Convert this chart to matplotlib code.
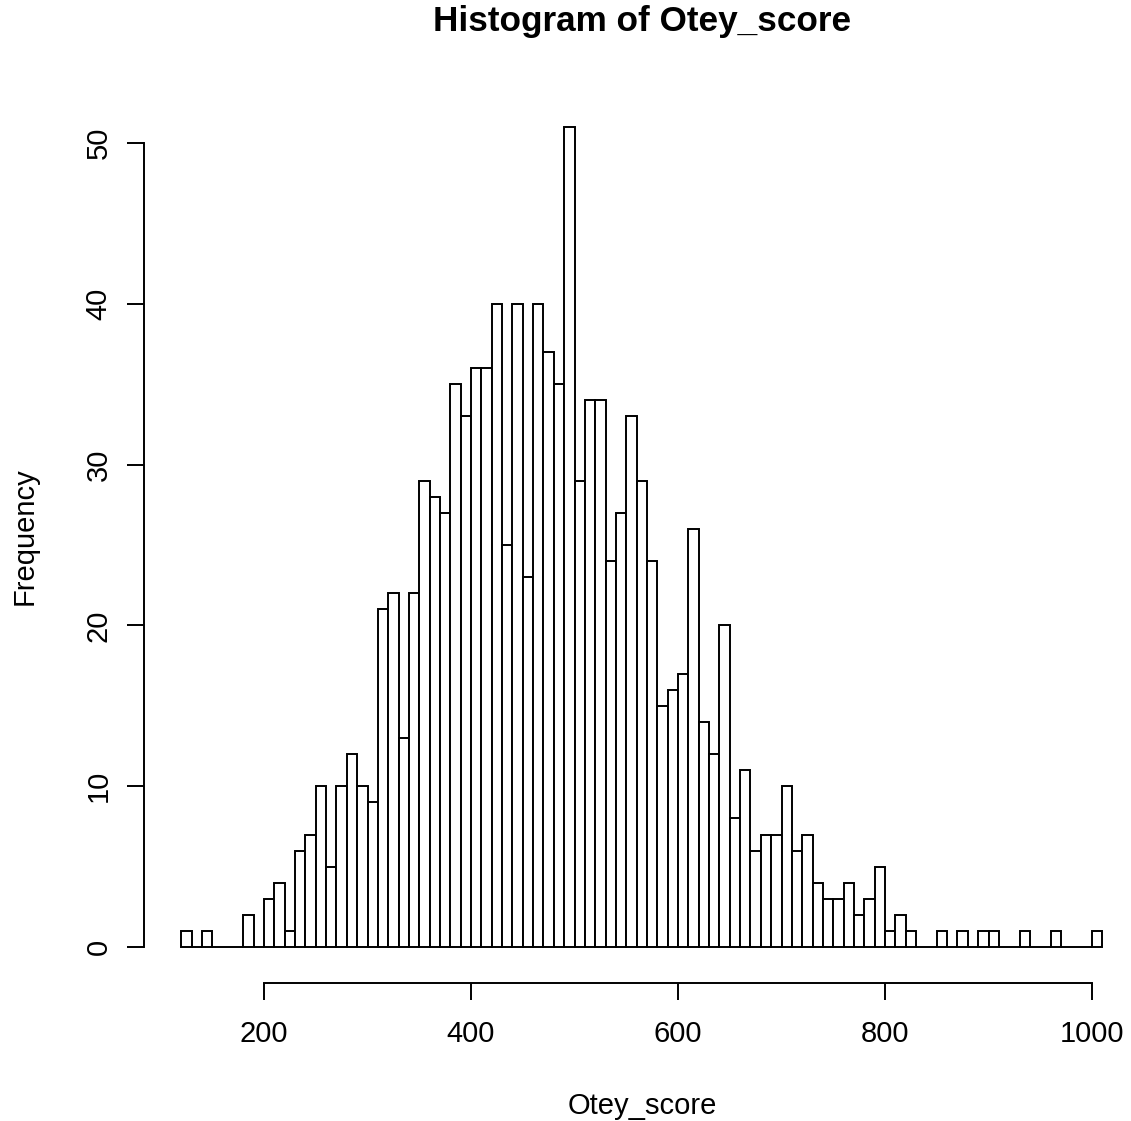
import numpy as np
import matplotlib
matplotlib.use("Agg")
from matplotlib import pyplot as plt

# histogram of Otey_score, bins of width 10 starting at 120
bin_width = 10
bin_starts = list(range(120, 1010, bin_width))
counts = [1, 0, 1, 0, 0, 0, 2, 0,            # 120-190
          3, 4, 1, 6, 7, 10, 5, 10, 12, 10,   # 200-290
          9, 21, 22, 13, 22, 29, 28, 27, 35, 33,   # 300-390
          36, 36, 40, 25, 40, 23, 40, 37, 35, 51,  # 400-490
          29, 34, 34, 24, 27, 33, 29, 24, 15, 16,  # 500-590
          17, 26, 14, 12, 20, 8, 11, 6, 7, 7,      # 600-690
          10, 6, 7, 4, 3, 3, 4, 2, 3, 5,           # 700-790
          1, 2, 1, 0, 0, 1, 0, 1, 0, 1,            # 800-890
          1, 0, 0, 1, 0, 0, 1, 0, 0, 0,            # 900-990
          1]                                       # 1000
x_ticks = [200, 400, 600, 800, 1000]
y_ticks = [0, 10, 20, 30, 40, 50]

plt.rcParams['font.family'] = ['Liberation Sans', 'DejaVu Sans']

W, H = 1131, 1121
fig = plt.figure(figsize=(W / 100, H / 100), dpi=100, facecolor='white')

# plot region in pixels (left, right, top, bottom)
left, right, top, bottom = 144.4, 1139.2, 94, 980
ax = fig.add_axes([left / W, (H - bottom) / H, (right - left) / W, (bottom - top) / H])

lw = 1.4
ax.bar(bin_starts, counts, width=bin_width, align='edge',
       facecolor='white', edgecolor='black', linewidth=lw)

# R-style extended ranges (4% on each side)
xr = (bin_starts[0], bin_starts[-1] + bin_width)
yr = (0, max(counts))
dx = 0.04 * (xr[1] - xr[0])
dy = 0.04 * (yr[1] - yr[0])
ax.set_xlim(xr[0] - dx, xr[1] + dx)
ax.set_ylim(yr[0] - dy, yr[1] + dy)

for s in ['top', 'right']:
    ax.spines[s].set_visible(False)
ax.spines['bottom'].set_bounds(x_ticks[0], x_ticks[-1])
ax.spines['left'].set_bounds(y_ticks[0], y_ticks[-1])
ax.spines['bottom'].set_position(('outward', 2))
for s in ['bottom', 'left']:
    ax.spines[s].set_linewidth(lw)

ax.set_xticks(x_ticks)
ax.set_yticks(y_ticks)
ax.tick_params(axis='x', length=12, width=lw, pad=15, labelsize=21)
ax.tick_params(axis='y', length=12, width=lw, pad=11, labelsize=21,
               labelrotation=90)
for lab in ax.get_yticklabels():
    lab.set_verticalalignment('center')

fig.text(642 / W, 1 - 22 / H, 'Histogram of Otey_score', ha='center', va='center',
         fontsize=25.3, fontweight='bold')
fig.text(642 / W, 1 - 1106 / H, 'Otey_score', ha='center', va='center', fontsize=21)
fig.text(25 / W, 1 - 536 / H, 'Frequency', ha='center', va='center', fontsize=21,
         rotation=90)

fig.savefig('out.png', dpi=100, facecolor=fig.get_facecolor())
